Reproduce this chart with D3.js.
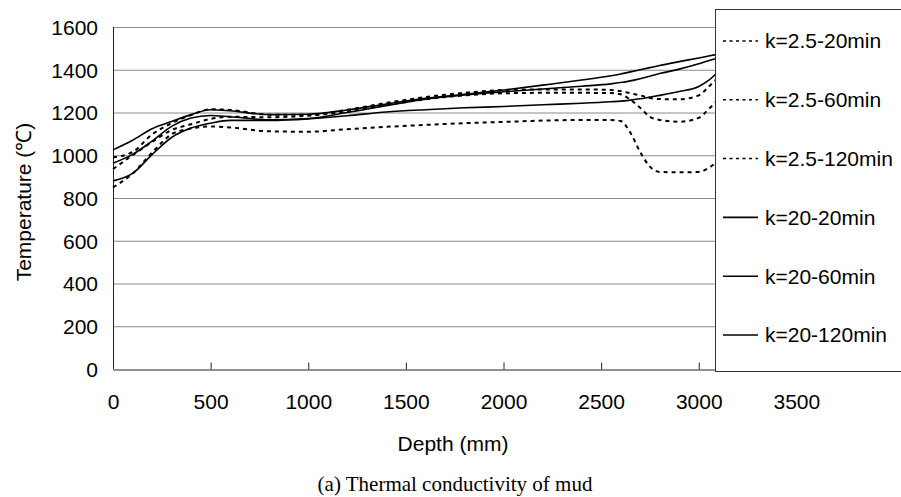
<!DOCTYPE html>
<html>
<head>
<meta charset="utf-8">
<script src="https://cdnjs.cloudflare.com/ajax/libs/d3/7.8.5/d3.min.js"></script>
<style>
  body { margin: 0; background: #fff; }
  svg { display: block; }
</style>
</head>
<body>
<div id="chart"></div>
<script>
// depth points (mm) shared by all series
var depth = [0, 100, 200, 300, 400, 500, 600, 800, 1000, 1200, 1400, 1600, 1800, 2000, 2200, 2400, 2550, 2600, 2650, 2700, 2750, 2800, 2900, 3000, 3050, 3100];

// temperatures
var k25_20 = [850, 914, 1012, 1098, 1125, 1135, 1130, 1112, 1110, 1122, 1133, 1142, 1150, 1156, 1162, 1165, 1165, 1160, 1105, 1015, 947, 922, 920, 922, 940, 975];
var k25_60 = [935, 1000, 1062, 1118, 1145, 1170, 1180, 1178, 1185, 1205, 1235, 1262, 1280, 1290, 1292, 1292, 1291, 1285, 1260, 1222, 1180, 1165, 1157, 1175, 1215, 1260];
var k25_120 = [990, 1015, 1097, 1150, 1188, 1215, 1212, 1190, 1190, 1213, 1245, 1272, 1292, 1305, 1308, 1308, 1305, 1300, 1290, 1280, 1268, 1263, 1262, 1280, 1320, 1365];
var k20_20 = [1025, 1070, 1124, 1158, 1190, 1213, 1208, 1190, 1192, 1212, 1240, 1266, 1285, 1305, 1328, 1352, 1372, 1380, 1390, 1400, 1410, 1420, 1438, 1455, 1464, 1473];
var k20_60 = [963, 1004, 1066, 1135, 1174, 1186, 1180, 1166, 1172, 1200, 1232, 1262, 1282, 1297, 1310, 1323, 1334, 1340, 1348, 1358, 1370, 1382, 1403, 1428, 1442, 1455];
var k20_120 = [880, 915, 1003, 1083, 1127, 1150, 1163, 1163, 1170, 1185, 1202, 1213, 1222, 1228, 1236, 1243, 1250, 1253, 1258, 1264, 1272, 1280, 1298, 1322, 1350, 1392];

var seriesNames = ["k=2.5-20min", "k=2.5-60min", "k=2.5-120min", "k=20-20min", "k=20-60min", "k=20-120min"];
var seriesValues = [k25_20, k25_60, k25_120, k20_20, k20_60, k20_120];
var seriesDashed = [true, true, true, false, false, false];

var xTicks = [0, 500, 1000, 1500, 2000, 2500, 3000, 3500];
var yTicks = [0, 200, 400, 600, 800, 1000, 1200, 1400, 1600];

var width = 901, height = 497;
var margin = { top: 27, left: 113, bottom: 128, right: 7 };

var svg = d3.select("#chart")
  .append("svg")
  .attr("width", width)
  .attr("height", height);

var x = d3.scaleLinear().domain([0, 4000]).range([margin.left, width - margin.right]);
var y = d3.scaleLinear().domain([0, 1600]).range([height - margin.bottom, margin.top]);

var font = "Arial, 'Liberation Sans', sans-serif";
var fs = 21;

// horizontal gridlines
svg.append("g")
  .selectAll("line")
  .data(yTicks.slice(1))
  .enter()
  .append("line")
  .attr("x1", x(0))
  .attr("x2", x(4000))
  .attr("y1", function(d) { return y(d) + 0.5; })
  .attr("y2", function(d) { return y(d) + 0.5; })
  .attr("stroke", "#8a8a8a")
  .attr("stroke-width", 1);

// left axis line
svg.append("line")
  .attr("x1", x(0) + 0.5).attr("x2", x(0) + 0.5)
  .attr("y1", y(1600)).attr("y2", y(0))
  .attr("stroke", "#222");

// x axis with inward ticks
var xAxis = d3.axisBottom(x).tickValues(xTicks).tickSize(-7).tickSizeOuter(0).tickFormat(d3.format("d"));
var gx = svg.append("g")
  .attr("transform", "translate(0," + (y(0) + 0.5) + ")")
  .call(xAxis);
gx.select(".domain").attr("stroke", "#222");
gx.selectAll(".tick line").attr("stroke", "#222");
gx.selectAll(".tick text")
  .attr("y", 32)
  .attr("dy", "0.35em")
  .attr("font-family", font)
  .attr("font-size", fs)
  .attr("fill", "#000");

// y tick labels
var yAxis = d3.axisLeft(y).tickValues(yTicks).tickSize(0).tickFormat(d3.format("d"));
var gy = svg.append("g")
  .attr("transform", "translate(" + x(0) + ",0)")
  .call(yAxis);
gy.select(".domain").remove();
gy.selectAll(".tick text")
  .attr("x", -15)
  .attr("dy", "0.35em")
  .attr("font-family", font)
  .attr("font-size", fs)
  .attr("fill", "#000");

// the curves
var line = d3.line()
  .x(function(d) { return x(d[0]); })
  .y(function(d) { return y(d[1]); })
  .curve(d3.curveMonotoneX);

seriesValues.forEach(function(vals, i) {
  var pts = depth.map(function(d, j) { return [d, vals[j]]; });
  svg.append("path")
    .attr("d", line(pts))
    .attr("fill", "none")
    .attr("stroke", "#000")
    .attr("stroke-width", seriesDashed[i] ? 2 : 1.6)
    .attr("stroke-dasharray", seriesDashed[i] ? "4,4" : null);
});

// legend
var legend = svg.append("g");
legend.append("rect")
  .attr("x", 715.5)
  .attr("y", 9.5)
  .attr("width", 200)
  .attr("height", 362)
  .attr("fill", "#fff")
  .attr("stroke", "#333");

seriesNames.forEach(function(name, i) {
  var cy = 41 + i * 58.8;
  legend.append("line")
    .attr("x1", 723).attr("x2", 758)
    .attr("y1", cy).attr("y2", cy)
    .attr("stroke", "#000")
    .attr("stroke-width", seriesDashed[i] ? 1.5 : 1.6)
    .attr("stroke-dasharray", seriesDashed[i] ? "3,3.5" : null);
  legend.append("text")
    .attr("x", 765)
    .attr("y", cy)
    .attr("dy", "0.35em")
    .attr("font-family", font)
    .attr("font-size", fs)
    .text(name);
});

// axis titles
svg.append("text")
  .attr("x", 453)
  .attr("y", 444)
  .attr("dy", "0.35em")
  .attr("text-anchor", "middle")
  .attr("font-family", font)
  .attr("font-size", fs)
  .text("Depth (mm)");

svg.append("text")
  .attr("transform", "translate(24,202) rotate(-90)")
  .attr("dy", "0.35em")
  .attr("text-anchor", "middle")
  .attr("font-family", font)
  .attr("font-size", fs)
  .text("Temperature (℃)");

svg.append("text")
  .attr("x", 455)
  .attr("y", 484)
  .attr("dy", "0.35em")
  .attr("text-anchor", "middle")
  .attr("font-family", "'Times New Roman', 'Liberation Serif', serif")
  .attr("font-size", 21)
  .text("(a) Thermal conductivity of mud");
</script>
</body>
</html>
